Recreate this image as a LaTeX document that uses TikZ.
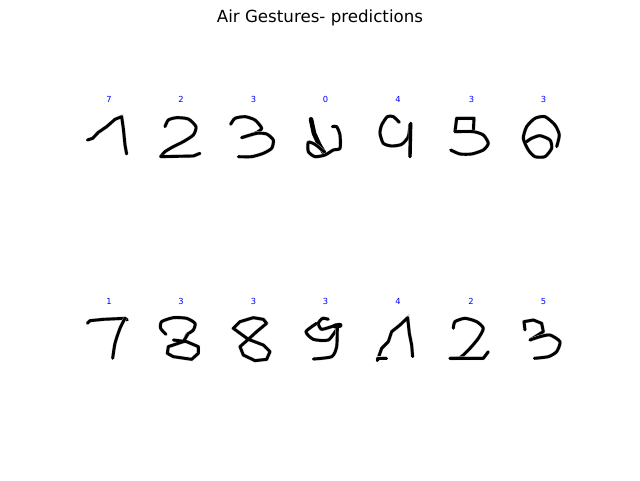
\documentclass[tikz,border=0pt]{standalone}
\usepackage{fontspec}
\setmainfont{DejaVu Sans}
\tikzset{
	pen/.style={line width=2.9pt, line cap=round, line join=round, black, preaction={draw, gray!40, line width=3.7pt}},
	predlabel/.style={text=blue, font=\fontsize{8.33}{10}\selectfont, inner sep=0pt},
	cropA/.style={shift={(70,85)}, x=0.3333pt, y=-0.3333pt},
	cropB/.style={shift={(300,85)}, x=0.3333pt, y=-0.3333pt},
	cropC/.style={shift={(70,290)}, x=0.3333pt, y=-0.3333pt},
	cropD/.style={shift={(300,290)}, x=0.3333pt, y=-0.3333pt}
}
\begin{document}
\begin{tikzpicture}[x=1pt, y=-1pt]
	\useasboundingbox (0,0) rectangle (640,480);
	\node[font=\fontsize{16.67}{20}\selectfont, inner sep=0pt] (title) at (320,18) {Air Gestures- predictions};
	% predicted digits above each sample
	\foreach \x/\lab in {109/7,181/2,253.5/3,325.5/0,398/4,471.5/3,543.5/3}
		\node[predlabel] (top\x) at (\x,99.5) {\lab};
	\foreach \x/\lab in {109/1,181/3,253.5/3,325.5/3,398/4,471/2,543.5/5}
		\node[predlabel] (bot\x) at (\x,301.5) {\lab};
	% top row
	\begin{scope}[cropA]
		\draw[pen] (52,165) -- (68,160) -- (85,142) -- (110,125) -- (135,103) -- (155,95) -- (160,130) -- (165,180) -- (170,207);
		\draw[pen] plot[smooth, tension=0.4] coordinates {(285,125) (295,105) (320,98) (355,102) (378,125) (370,150) (340,170) (310,185) (285,200) (272,215)};
		\draw[pen] (272,215) -- (370,213) -- (390,205);
		\draw[pen] plot[smooth, tension=0.4] coordinates {(482,118) (495,100) (525,95) (555,105) (575,130) (555,145) (515,158)};
		\draw[pen] plot[smooth, tension=0.4] coordinates {(515,158) (560,145) (590,147) (610,165) (605,190) (580,205) (545,215) (505,215)};
	\end{scope}
	\begin{scope}[cropB]
		\draw[pen, line width=4.6pt] (33,103) -- (42,145) -- (58,180) -- (72,203);
		\draw[pen] plot[smooth, tension=0.4] coordinates {(72,200) (45,178) (25,172) (25,200) (45,215) (75,210) (100,195) (120,190) (120,150) (110,125) (97,125)};
		\draw[pen] plot[smooth, tension=0.4] coordinates {(298,112) (280,95) (262,95) (245,120) (240,145) (250,175) (275,183) (305,178) (325,155) (330,118)};
		\draw[pen, line width=3.4pt] (332,115) -- (330,215);
		\draw[pen] (465,140) -- (470,100) -- (522,100) -- (520,140);
		\draw[pen] plot[smooth, tension=0.4] coordinates {(465,140) (520,140) (550,150) (565,175) (550,195) (515,207) (480,207) (452,195)};
		\draw[pen] plot[smooth, tension=0.4] coordinates {(770,185) (778,150) (765,120) (735,95) (705,100) (680,125) (670,160) (685,195) (705,215) (735,215) (755,190) (750,165) (720,152) (695,160) (680,170)};
	\end{scope}
	% bottom row
	\begin{scope}[cropC]
		\draw[pen] (52,100) -- (60,92) -- (100,88) -- (165,85) -- (172,90);
		\draw[pen] plot[smooth, tension=0.4] coordinates {(165,85) (150,115) (135,160) (128,205)};
		\draw[pen] plot[smooth, tension=0.4] coordinates {(288,133) (272,115) (275,95) (310,83) (350,85) (375,100) (370,120) (350,135) (345,150)};
		\draw[pen] (310,150) -- (350,155) -- (385,170) -- (385,190) -- (365,208) -- (310,200) -- (292,190) -- (295,170) -- (340,155) -- (355,130);
		\draw[pen] (535,148) -- (490,115) -- (510,95) -- (550,83) -- (580,88) -- (590,100) -- (560,125) -- (535,148) -- (510,170) -- (520,195) -- (555,212) -- (590,208) -- (600,185) -- (580,165) -- cycle;
	\end{scope}
	\begin{scope}[cropD]
		\draw[pen] plot[smooth, tension=0.4] coordinates {(85,88) (68,85) (55,100) (65,118) (100,108)};
		\draw[pen] plot[smooth, tension=0.4] coordinates {(50,100) (18,125) (40,148) (85,150) (112,115)};
		\draw[pen] plot[smooth, tension=0.4] coordinates {(112,110) (110,170) (95,200) (40,207)};
		\draw[pen, line width=5pt] (105,108) -- (120,106);
		\draw[pen] (232,212) -- (245,175) -- (265,155) -- (275,125) -- (300,105) -- (323,83) -- (328,130) -- (335,165) -- (338,200);
		\draw[pen] (232,205) -- (260,205);
		\draw[pen] plot[smooth, tension=0.4] coordinates {(460,115) (465,95) (495,85) (530,95) (550,115) (535,145) (510,175) (480,203) (450,205)};
		\draw[pen] (450,205) -- (550,205) -- (565,185);
		\draw[pen] (675,120) -- (672,95) -- (700,90) -- (725,100) -- (730,125) -- (690,150);
		\draw[pen] plot[smooth, tension=0.4] coordinates {(690,150) (720,140) (750,135) (780,155) (770,185) (745,200) (703,205)};
	\end{scope}
\end{tikzpicture}
\end{document}
